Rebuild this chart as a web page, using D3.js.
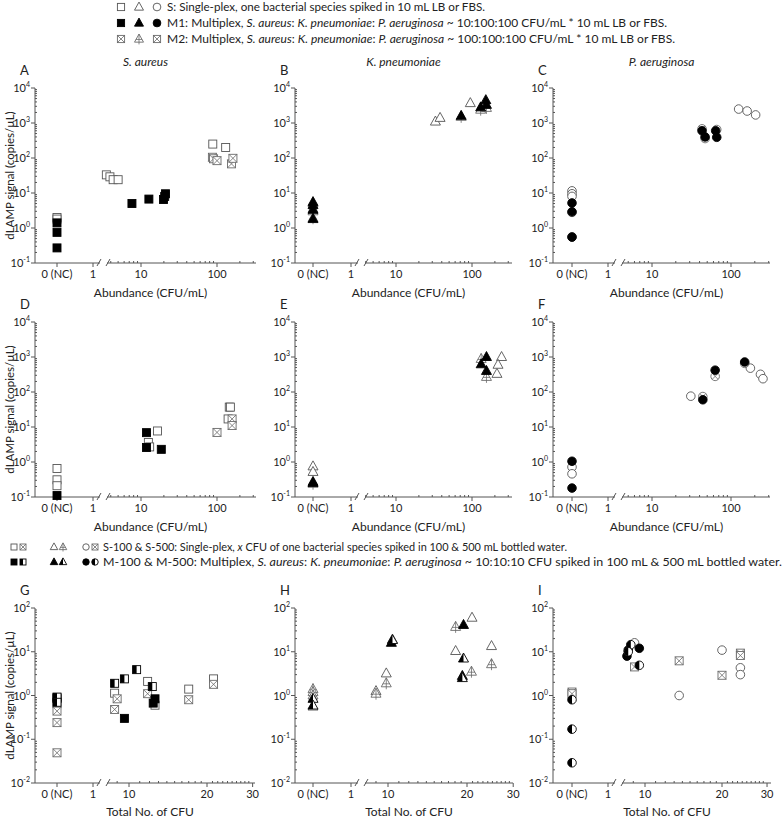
<!DOCTYPE html>
<html><head><meta charset="utf-8">
<script src="https://cdn.jsdelivr.net/npm/d3@7"></script>
<style>body{margin:0;background:#fff} text{font-family:Lato,"Open Sans",sans-serif;fill:#222}</style>
</head><body><svg id="c" width="784" height="819"></svg>
<script>
// ---------------- DATA ----------------
// x = abundance (CFU/mL) or total CFU, 0 = negative control (NC); y = dLAMP signal (copies/µL)
const colTitles = ["S. aureus", "K. pneumoniae", "P. aeruginosa"];
const panelLetters = ["A","B","C","D","E","F","G","H","I"];
const xTickLabelsTop = ["0 (NC)","1","10","100"];
const xTickLabelsBot = ["0 (NC)","1","10","20","30"];

const A_S  = [[0,2.0],[0,1.8],[3.5,33],[3.9,29],[4.3,24],[5.0,24],[88,250],[130,200]];
const A_M1 = [[0,1.4],[0,0.75],[0,0.27],[7.6,5.0],[12.7,6.7],[19.8,6.5],[20.5,8],[21,9.5]];
const A_M2 = [[87,105],[90,95],[100,84],[155,68],[162,98]];

const B_S  = [[0,5.0],[0,3.5],[33,1100],[38,1400],[95,3700]];
const B_M1 = [[0,5.5],[0,4.5],[0,3.3],[0,1.8],[72,1600],[130,2800],[152,4500],[155,3300]];
const B_M2 = [[0,3.0],[0,1.9],[72,1500],[130,2400],[155,2700]];

const C_S  = [[0,11.5],[0,9.5],[0,8],[125,2500],[160,2200],[205,1700]];
const C_M1 = [[0,5.2],[0,2.9],[0,0.55],[43,600],[47,400],[64,600],[66,390]];
const C_M2 = [[0,2.8],[0,0.56],[43,680],[47,360],[66,650]];

const D_S  = [[0,0.65],[0,0.31],[0,0.21],[12.5,3.6],[13,2.7],[16.5,7.7],[140,17],[145,37],[150,37]];
const D_M1 = [[0,0.11],[11.8,6.9],[11.8,2.6],[18.5,2.3]];
const D_M2 = [[100,7.0],[158,17],[158,11]];

const E_S  = [[0,0.75],[0,0.52],[245,1000],[220,600],[213,330]];
const E_M1 = [[0,0.27],[0,0.25],[155,1000],[132,620],[155,400]];
const E_M2 = [[0,0.24],[132,880],[155,270]];

const F_S  = [[0,0.72],[0,0.46],[31,76],[176,480],[236,320],[254,240]];
const F_M1 = [[0,1.05],[0,0.18],[44,60],[63,420],[149,720]];
const F_M2 = [[44,74],[63,280],[149,660]];

const G_S100 = [[0,0.9],[0,0.65],[8.8,1.13],[11.8,2.1],[12.6,0.6],[17,1.4],[21.2,2.4]];
const G_S500 = [[0,0.44],[0,0.24],[0,0.049],[8.8,0.48],[9.0,0.84],[11.8,1.1],[17,0.8],[21.2,1.8]];
const G_M100 = [[0,0.85],[9.6,0.30],[12.6,0.84],[12.4,0.67]];
const G_M500 = [[0,0.92],[0,0.70],[8.8,1.9],[9.6,2.4],[10.7,3.9],[12.3,1.6]];

const H_S100 = [[0,0.56],[9.0,1.26],[9.85,3.2],[10.4,19],[18.1,10.4],[20.9,60],[24.8,13.5]];
const H_S500 = [[0,1.4],[0,1.2],[0,1.0],[9.0,1.1],[9.85,1.9],[18.1,37],[20.8,3.5],[24.8,5.2]];
const H_M100 = [[10.3,16],[19.4,41],[19.2,2.8]];
const H_M500 = [[0,0.84],[0,0.59],[10.4,18.5],[19.4,7.0],[19.2,2.5]];

const I_S100 = [[9.1,16],[13.6,1.0],[20,10.9],[23.6,4.3],[23.6,3.0]];
const I_S500 = [[0,1.2],[0,1.1],[9.1,4.5],[13.6,6.2],[20,2.9],[23.6,9.3],[23.6,8.2]];
const I_M100 = [[8.5,7.95],[8.6,11],[9.5,12]];
const I_M500 = [[0,0.8],[0,0.17],[0,0.029],[8.8,14.5],[8.6,10],[9.5,4.9]];

const legendTop = [
  {shapes:[["sq","open"],["tri","open"],["cir","open"]], parts:[["S: Single-plex, one bacterial species spiked in 10 mL LB or FBS.",false]]},
  {shapes:[["sq","filled"],["tri","filled"],["cir","filled"]], parts:[["M1: Multiplex, ",false],["S. aureus",true],[": ",false],["K. pneumoniae",true],[": ",false],["P. aeruginosa",true],[" ~ 10:100:100 CFU/mL * 10 mL LB or FBS.",false]]},
  {shapes:[["sq","cross"],["tri","cross"],["sq","cross"]], parts:[["M2: Multiplex, ",false],["S. aureus",true],[": ",false],["K. pneumoniae",true],[": ",false],["P. aeruginosa",true],[" ~ 100:100:100 CFU/mL * 10 mL LB or FBS.",false]]}
];
const legendMid = [
  {shapes:[["sq","open"],["sq","cross"],["tri","open"],["tri","cross"],["cir","open"],["sq","cross"]], parts:[["S-100 & S-500: Single-plex, ",false],["x",true],[" CFU of one bacterial species spiked in 100 & 500 mL bottled water.",false]]},
  {shapes:[["sq","filled"],["sq","half"],["tri","filled"],["tri","half"],["cir","filled"],["cir","half"]], parts:[["M-100 & M-500: Multiplex, ",false],["S. aureus",true],[": ",false],["K. pneumoniae",true],[": ",false],["P. aeruginosa",true],[" ~ 10:10:10 CFU spiked in 100 mL & 500 mL bottled water.",false]]}
];

// ---------------- LAYOUT ----------------
const svg = d3.select("#c");
const rows = [{top:88,bottom:263,lo:-1,hi:4},{top:322,bottom:497,lo:-1,hi:4},{top:608,bottom:783,lo:-2,hi:2}];
const colsTop = [{left:35,right:256,nc:57,one:93,a:141,b:217},{left:295,right:512,nc:313,one:351,a:396,b:472},{left:553,right:770,nc:572,one:608,a:652,b:731}];
const colsBot = [{left:35,right:255,nc:57,one:93,a:129,b:207},{left:295,right:513,nc:313,one:351,a:388,b:467},{left:553,right:771,nc:572,one:608,a:645,b:722}];

function drawMarker(g, shape, style, x, y, k){
  k = k || 1;
  const m = g.append("g").attr("transform",`translate(${x},${y}) scale(${k})`);
  const stroke = style==="open" ? "#555" : style==="cross" ? "#6a6a6a" : "#000";
  const fill = style==="filled" ? "#000" : "#fff";
  const sw = 0.9/k;
  let el;
  if(shape==="sq") el = m.append("rect").attr("x",-4).attr("y",-4).attr("width",8).attr("height",8);
  else if(shape==="tri") el = m.append("path").attr("d","M0,-5.5L5,3.5L-5,3.5Z");
  else el = m.append("circle").attr("r",4.3);
  el.attr("fill",fill).attr("stroke",stroke).attr("stroke-width",sw);
  if(style==="half"){
    let d;
    if(shape==="sq") d="M-4,-4L0,-4L0,4L-4,4Z";
    else if(shape==="tri") d="M0,-5.5L0,3.5L-5,3.5Z";
    else d="M0,-4.3A4.3,4.3 0 0 0 0,4.3Z";
    m.append("path").attr("d",d).attr("fill","#000");
  }
  if(style==="cross"){
    const cw = 0.8/k;
    if(shape==="sq") m.append("path").attr("d","M-4,-4L4,4M4,-4L-4,4").attr("stroke",stroke).attr("stroke-width",cw);
    else if(shape==="cir") m.append("path").attr("d","M-3,-3L3,3M3,-3L-3,3").attr("stroke",stroke).attr("stroke-width",cw);
    else m.append("path").attr("d","M0,-5.5L0,6M-3.5,0.5L3.5,0.5").attr("stroke",stroke).attr("stroke-width",cw);
  }
}

function supLabel(sel, exp){
  sel.append("tspan").text("10");
  sel.append("tspan").attr("font-size",7).attr("dy",-5).text(exp);
}

function drawPanel(ri, ci, series, letter){
  const r = rows[ri];
  const bottomRow = ri===2;
  const c = bottomRow ? colsBot[ci] : colsTop[ci];
  const y = d3.scaleLog().domain([Math.pow(10,r.lo),Math.pow(10,r.hi)]).range([r.bottom,r.top]);
  const lin = d3.scaleLinear().domain([0,1]).range([c.nc,c.one]);
  const lg = d3.scaleLog().domain(bottomRow?[10,20]:[10,100]).range([c.a,c.b]);
  const xf = v => v < 1.5 ? lin(v) : lg(v);
  const brk0 = c.one+7, brk1 = c.one+14;
  const g = svg.append("g");
  const ax = g.append("g").attr("stroke","#555").attr("stroke-width",1).attr("fill","none");
  // y axis
  ax.append("line").attr("x1",c.left).attr("x2",c.left).attr("y1",r.top).attr("y2",r.bottom);
  for(let e=r.lo;e<=r.hi;e++){
    ax.append("line").attr("x1",c.left-4).attr("x2",c.left).attr("y1",y(Math.pow(10,e))).attr("y2",y(Math.pow(10,e)));
    if(e<r.hi) for(let k=2;k<=9;k++){
      const yy=y(k*Math.pow(10,e));
      ax.append("line").attr("x1",c.left).attr("x2",c.left+2).attr("y1",yy).attr("y2",yy);
    }
    const t = g.append("text").attr("x",c.left-5).attr("y",y(Math.pow(10,e))+4).attr("text-anchor","end").attr("font-size",11);
    supLabel(t, String(e));
  }
  // x axis (broken)
  ax.append("line").attr("x1",c.left).attr("x2",brk0).attr("y1",r.bottom).attr("y2",r.bottom);
  ax.append("line").attr("x1",brk1).attr("x2",c.right).attr("y1",r.bottom).attr("y2",r.bottom);
  ax.append("path").attr("d",`M${brk0-3},${r.bottom+3}L${brk0+1},${r.bottom-4}M${brk1-1},${r.bottom+3}L${brk1+3},${r.bottom-4}`);
  [0,1].forEach(v=>ax.append("line").attr("x1",lin(v)).attr("x2",lin(v)).attr("y1",r.bottom).attr("y2",r.bottom+4));
  const majors = bottomRow ? [10,20,30] : [10,100];
  const minors = bottomRow ? [9,11,12,13,14,15,16,17,18,19,21,22,23,24,25,26,27,28,29]
                           : [4,5,6,7,8,9,20,30,40,50,60,70,80,90,200,300];
  majors.forEach(v=>{ if(lg(v)<=c.right+1) ax.append("line").attr("x1",lg(v)).attr("x2",lg(v)).attr("y1",r.bottom).attr("y2",r.bottom+4); });
  minors.forEach(v=>{ const xx=lg(v); if(xx>brk1 && xx<=c.right) ax.append("line").attr("x1",xx).attr("x2",xx).attr("y1",r.bottom).attr("y2",r.bottom-2); });
  const labs = bottomRow ? xTickLabelsBot : xTickLabelsTop;
  const pos = bottomRow ? [lin(0),lin(1),lg(10),lg(20),lg(30)] : [lin(0),lin(1),lg(10),lg(100)];
  labs.forEach((l,i)=>g.append("text").attr("x",pos[i]).attr("y",r.bottom+15).attr("text-anchor","middle").attr("font-size",11).text(l));
  // x title
  g.append("text").attr("x",(c.left+c.right)/2+5).attr("y", bottomRow? r.bottom+33 : r.bottom+34).attr("text-anchor","middle").attr("font-size",12)
    .text(bottomRow ? "Total No. of CFU" : "Abundance (CFU/mL)");
  // letter
  g.append("text").attr("x",c.left-15).attr("y",r.top-13).attr("font-size",13).text(letter);
  // y title
  if(ci===0) g.append("text").attr("transform",`translate(14,${(r.top+r.bottom)/2}) rotate(-90)`).attr("text-anchor","middle").attr("font-size",11.5).text("dLAMP signal (copies/µL)");
  // points
  const pg = g.append("g");
  series.forEach(s=> s.data.forEach(d=> drawMarker(pg, s.shape, s.style, xf(d[0]), y(d[1]))));
}

// column titles
colTitles.forEach((t,i)=>{
  const c = colsTop[i];
  svg.append("text").attr("x",(c.left+c.right)/2).attr("y",66).attr("text-anchor","middle").attr("font-size",12).attr("font-style","italic").text(t);
});

drawPanel(0,0,[{shape:"sq",style:"open",data:A_S},{shape:"sq",style:"cross",data:A_M2},{shape:"sq",style:"filled",data:A_M1}],panelLetters[0]);
drawPanel(0,1,[{shape:"tri",style:"open",data:B_S},{shape:"tri",style:"cross",data:B_M2},{shape:"tri",style:"filled",data:B_M1}],panelLetters[1]);
drawPanel(0,2,[{shape:"cir",style:"open",data:C_S},{shape:"cir",style:"cross",data:C_M2},{shape:"cir",style:"filled",data:C_M1}],panelLetters[2]);
drawPanel(1,0,[{shape:"sq",style:"open",data:D_S},{shape:"sq",style:"cross",data:D_M2},{shape:"sq",style:"filled",data:D_M1}],panelLetters[3]);
drawPanel(1,1,[{shape:"tri",style:"open",data:E_S},{shape:"tri",style:"cross",data:E_M2},{shape:"tri",style:"filled",data:E_M1}],panelLetters[4]);
drawPanel(1,2,[{shape:"cir",style:"open",data:F_S},{shape:"cir",style:"cross",data:F_M2},{shape:"cir",style:"filled",data:F_M1}],panelLetters[5]);
drawPanel(2,0,[{shape:"sq",style:"open",data:G_S100},{shape:"sq",style:"cross",data:G_S500},{shape:"sq",style:"filled",data:G_M100},{shape:"sq",style:"half",data:G_M500}],panelLetters[6]);
drawPanel(2,1,[{shape:"tri",style:"open",data:H_S100},{shape:"tri",style:"cross",data:H_S500},{shape:"tri",style:"filled",data:H_M100},{shape:"tri",style:"half",data:H_M500}],panelLetters[7]);
drawPanel(2,2,[{shape:"cir",style:"open",data:I_S100},{shape:"sq",style:"cross",data:I_S500},{shape:"cir",style:"filled",data:I_M100},{shape:"cir",style:"half",data:I_M500}],panelLetters[8]);

// legends
function legendLine(entry, y, symX, textX, endX, k){
  const lg = svg.append("g");
  entry.shapes.forEach((s,i)=> drawMarker(lg, s[0], s[1], symX[i], y-4, k));
  const t = lg.append("text").attr("x",textX).attr("y",y).attr("font-size",11)
    .attr("textLength",endX-textX).attr("lengthAdjust","spacingAndGlyphs");
  entry.parts.forEach(p=> t.append("tspan").attr("font-style",p[1]?"italic":"normal").text(p[0]));
}
legendLine(legendTop[0], 11, [121,139,157], 167, 485, 0.9);
legendLine(legendTop[1], 27, [121,139,157], 167, 667, 0.9);
legendLine(legendTop[2], 43, [121,139,157], 167, 675, 0.9);
legendLine(legendMid[0], 551, [14,23,54,63,86,95], 103, 567, 0.75);
legendLine(legendMid[1], 566, [14,23,54,63,86,95], 103, 782, 0.75);
</script></body></html>
